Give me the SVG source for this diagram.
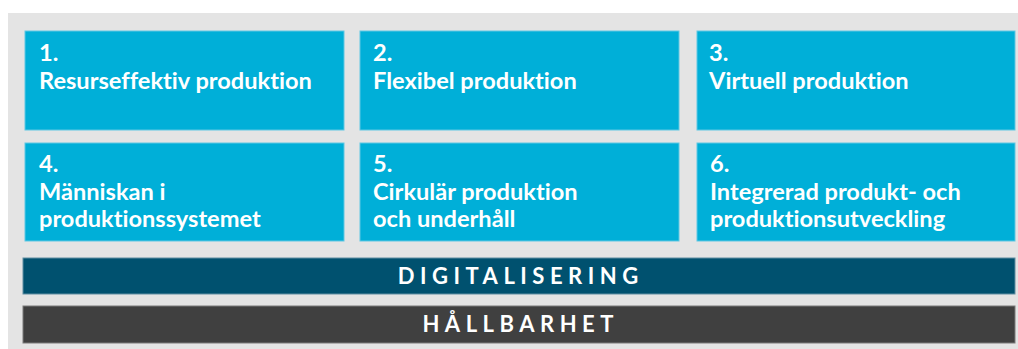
<svg xmlns="http://www.w3.org/2000/svg" width="1018" height="349" viewBox="0 0 1018 349">
<style>
.bg{fill:#e4e4e4}
.box{fill:#00afd8;stroke:#5fc7e3;stroke-width:1}
.t{font-family:Lato,"Open Sans","Liberation Sans",sans-serif;font-weight:bold;font-size:23.6px;fill:#ffffff;font-variant-ligatures:none}
.bar-t{font-family:Lato,"Open Sans","Liberation Sans",sans-serif;font-weight:bold;font-size:22px;fill:#ffffff;letter-spacing:5.5px;text-anchor:middle}
</style>
<rect class="bg" x="8" y="13" width="1010" height="336"/>
<g id="n1"><rect class="box" x="25" y="31" width="319" height="99"/>
<text class="t" x="39" y="61">1.</text><text class="t" x="39" y="89">Resurseffektiv produktion</text></g>
<g id="n2"><rect class="box" x="360" y="31" width="319" height="99"/>
<text class="t" x="373" y="61">2.</text><text class="t" x="373" y="89">Flexibel produktion</text></g>
<g id="n3"><rect class="box" x="697" y="31" width="318" height="99"/>
<text class="t" x="709" y="61">3.</text><text class="t" x="709" y="89">Virtuell produktion</text></g>
<g id="n4"><rect class="box" x="25" y="143" width="319" height="98"/>
<text class="t" x="39" y="172">4.</text><text class="t" x="39" y="200">Människan i</text><text class="t" x="39" y="227">produktionssystemet</text></g>
<g id="n5"><rect class="box" x="360" y="143" width="319" height="98"/>
<text class="t" x="373" y="172">5.</text><text class="t" x="373" y="200">Cirkulär produktion</text><text class="t" x="373" y="227">och underhåll</text></g>
<g id="n6"><rect class="box" x="697" y="143" width="318" height="98"/>
<text class="t" x="710" y="172">6.</text><text class="t" x="710" y="200">Integrerad produkt- och</text><text class="t" x="710" y="227">produktionsutveckling</text></g>
<g id="digitalisering"><rect x="23" y="258" width="992" height="36" fill="#00516f" stroke="#5f8ea2" stroke-width="1"/>
<text class="bar-t" x="520.7" y="283.5">DIGITALISERING</text></g>
<g id="hallbarhet"><rect x="23" y="306" width="992" height="37" fill="#404040" stroke="#7a7a7a" stroke-width="1"/>
<text class="bar-t" x="520.7" y="332">HÅLLBARHET</text></g>
<g id="connectors"></g>
</svg>
